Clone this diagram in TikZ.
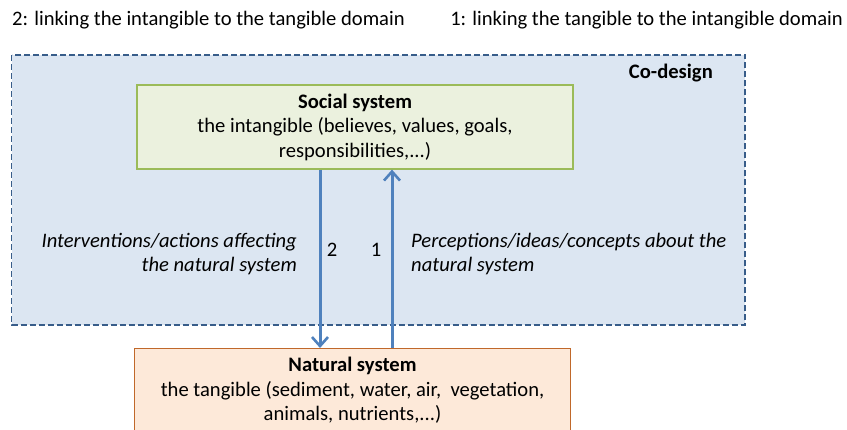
\documentclass[tikz,border=0pt]{standalone}
\usepackage{fontspec}
\setmainfont{Carlito}
\usetikzlibrary{arrows.meta}
\definecolor{cdfill}{HTML}{DCE6F2}
\definecolor{cddraw}{HTML}{385D8A}
\definecolor{socfill}{HTML}{EBF1DE}
\definecolor{socdraw}{HTML}{9BBB59}
\definecolor{natfill}{HTML}{FDE9D9}
\definecolor{natdraw}{HTML}{C0682A}
\definecolor{arr}{HTML}{4F81BD}
\tikzset{
  sysbox/.style={draw, line width=1.2pt, minimum width=436pt, minimum height=84pt, align=center, inner sep=0pt, font=\fontsize{20.6}{24.5}\selectfont},
  lbl/.style={inner sep=0pt, font=\fontsize{20.6}{24.5}\selectfont},
  ilbl/.style={inner sep=0pt, font=\fontsize{20.6}{24.5}\selectfont\itshape},
  flow/.style={draw=arr, line width=3pt, -{Straight Barb[length=9pt,width=16pt,line width=2.6pt]}},
}
\begin{document}
\begin{tikzpicture}[x=1pt,y=-1pt]
\useasboundingbox (0,0) rectangle (847,430);
\fill[white] (0,0) rectangle (847,430);
\node[lbl, anchor=west] (t2) at (12,20) {2: linking the intangible to the tangible domain};
\node[lbl, anchor=east] (t1) at (843,20) {1: linking the tangible to the intangible domain};
\draw[cddraw, fill=cdfill, line width=1.8pt, dash pattern=on 6pt off 3pt] (11.5,55) rectangle (745,325);
\node[lbl, anchor=east, font=\fontsize{20.6}{24.5}\selectfont\bfseries] (cd) at (713,73) {Co-design};
\node[sysbox, fill=socfill, draw=socdraw] (social) at (355,127) {\textbf{Social system}\\the intangible (believes, values, goals,\\responsibilities,...)};
\begin{scope}
\clip (0,0) rectangle (847,430);
\node[sysbox, fill=natfill, draw=natdraw, anchor=north] (natural) at (352.5,348) {\textbf{Natural system}\\the tangible (sediment, water, air,\ \ vegetation,\\animals, nutrients,...)};
\end{scope}
\draw[flow] (social.south -| 320,0) -- (natural.north -| 320,0);
\draw[flow] (natural.north -| 392,0) -- (social.south -| 392,0);
\node[lbl] (n2) at (332,250) {2};
\node[lbl] (n1) at (376,250) {1};
\node[ilbl, anchor=east, align=right] (left) at (297,254) {Interventions/actions affecting\\the natural system};
\node[ilbl, anchor=west, align=left] (right) at (411,254) {Perceptions/ideas/concepts about the\\natural system};
\end{tikzpicture}
\end{document}
